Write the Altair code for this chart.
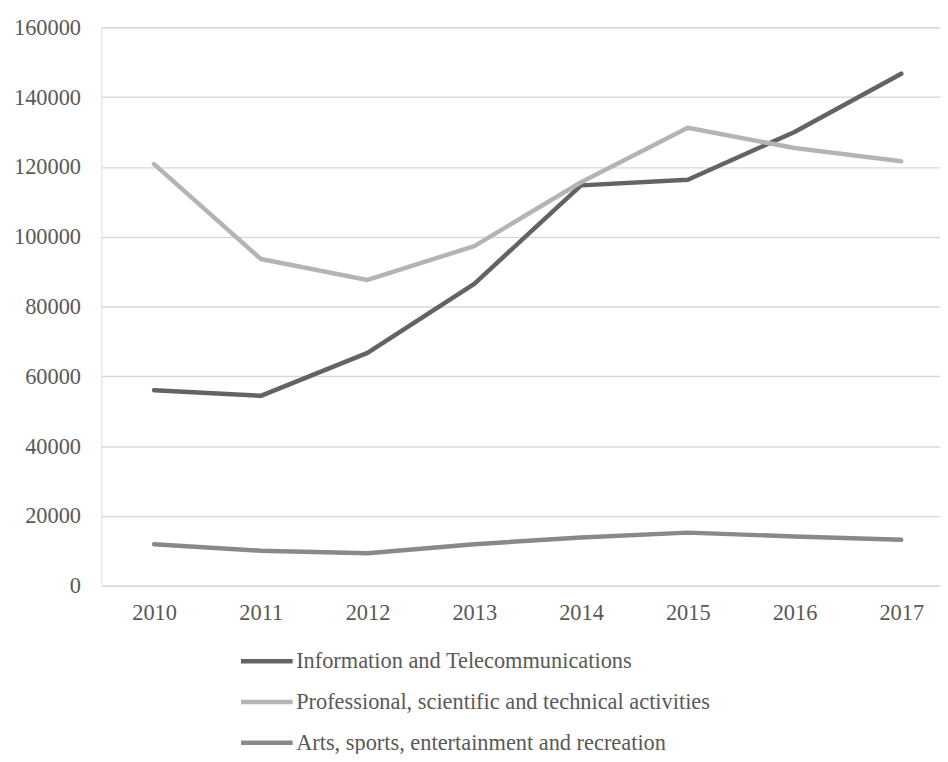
import altair as alt
import pandas as pd

years = [2010, 2011, 2012, 2013, 2014, 2015, 2016, 2017]
series_names = [
    "Information and Telecommunications",
    "Professional, scientific and technical activities",
    "Arts, sports, entertainment and recreation",
]
info = [56000, 54400, 66700, 86500, 114700, 116300, 130000, 146700]
prof = [120800, 93600, 87600, 97300, 115600, 131200, 125400, 121600]
arts = [11900, 10000, 9300, 11900, 13800, 15200, 14100, 13150]
colors = ["#636363", "#b4b4b4", "#898989"]

rows = []
for name, vals in zip(series_names, [info, prof, arts]):
    for y, v in zip(years, vals):
        rows.append({"year": y, "value": v, "series": name})
df = pd.DataFrame(rows)

FONT = "Liberation Serif"
TXT = "#595959"
FS = 22.5

chart = (
    alt.Chart(df)
    .mark_line(strokeWidth=4.5, strokeCap="round", strokeJoin="round")
    .encode(
        x=alt.X(
            "year:Q",
            scale=alt.Scale(domain=[2009.5067, 2017.363], nice=False, zero=False),
            axis=alt.Axis(
                values=years, format="d", title=None, grid=False, domain=False,
                ticks=False, labelFont=FONT, labelFontSize=FS, labelColor=TXT,
                labelPadding=16,
            ),
        ),
        y=alt.Y(
            "value:Q",
            scale=alt.Scale(domain=[0, 160000], nice=False),
            axis=alt.Axis(
                values=list(range(0, 160001, 20000)), format="d", title=None,
                domain=False, ticks=False, gridColor="#d9d9d9", gridWidth=1.5,
                labelFont=FONT, labelFontSize=FS, labelColor=TXT, labelPadding=21,
            ),
        ),
        color=alt.Color(
            "series:N",
            scale=alt.Scale(domain=series_names, range=colors),
            legend=alt.Legend(
                title=None, orient="none", legendX=138, legendY=619,
                direction="vertical", symbolType="stroke", symbolSize=2704,
                symbolStrokeWidth=4.5, labelFont=FONT, labelFontSize=FS,
                labelColor=TXT, labelOffset=1, clipHeight=38, rowPadding=3,
                labelLimit=800,
            ),
        ),
        order=alt.Order("year:Q"),
    )
    .properties(
        width=844, height=562,
        autosize=alt.AutoSizeParams(type="none"),
        padding={"left": 94, "top": 17, "right": 0, "bottom": 167},
    )
    .configure_view(stroke=None)
    .configure(background="white")
)

chart.save("out.html", embed_options={"renderer": "svg", "actions": False})
